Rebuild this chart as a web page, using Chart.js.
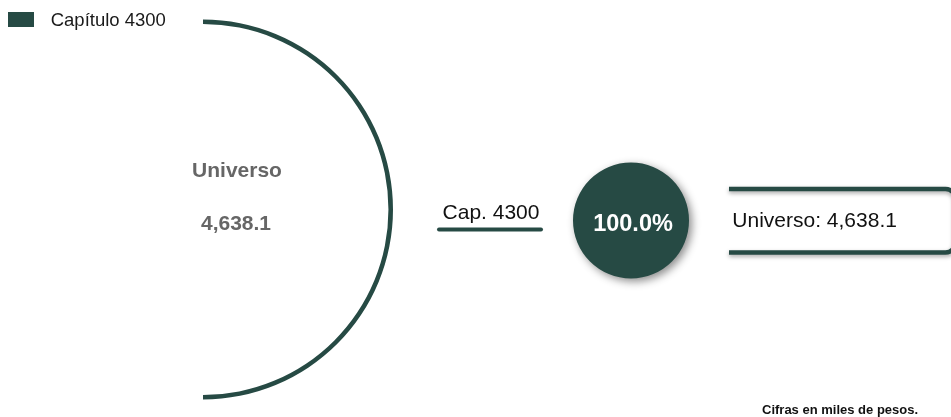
<!DOCTYPE html>
<html>
<head>
<meta charset="utf-8">
<script src="https://cdn.jsdelivr.net/npm/chart.js@4.4.0/dist/chart.umd.min.js"></script>
<style>
  html, body { margin: 0; padding: 0; background: #ffffff; }
  #wrap { position: relative; width: 951px; height: 417px; overflow: hidden;
          font-family: "Liberation Sans", Arial, sans-serif; }
  #arcBox { position: absolute; left: 0; top: 0; width: 596px; height: 417px; }
  #pieBox { position: absolute; left: 0; top: 0; width: 951px; height: 417px; }
  .t { position: absolute; white-space: nowrap; line-height: 1; }
  #legBox { position: absolute; left: 8px; top: 11.5px; width: 26px; height: 15.5px; }
  #legText { left: 50.7px; top: 11px; font-size: 18.5px; color: #1a1a1a; }
  #uniLabel { left: 137px; width: 200px; text-align: center; top: 158.9px; font-size: 21px; font-weight: bold; color: #666666; }
  #uniValue { left: 136px; width: 200px; text-align: center; top: 212.2px; font-size: 21px; font-weight: bold; color: #666666; }
  #capLabel { left: 391px; width: 200px; text-align: center; top: 200.5px; font-size: 21px; color: #111111; }
  #pctLabel { left: 533px; width: 200px; text-align: center; top: 211.6px; font-size: 23.5px; font-weight: bold; color: #ffffff; }
  #boxLabel { left: 732.3px; top: 208.9px; font-size: 21px; color: #111111; }
  #foot { left: 762px; top: 403px; font-size: 13px; font-weight: bold; color: #111111; }
</style>
</head>
<body>
<div id="wrap">
  <div id="arcBox"><canvas id="arcChart"></canvas></div>
  <div id="pieBox"><canvas id="pieChart"></canvas></div>
  <div id="legBox"></div>
  <div class="t" id="legText"></div>
  <div class="t" id="uniLabel"></div>
  <div class="t" id="uniValue"></div>
  <div class="t" id="capLabel"></div>
  <div class="t" id="pctLabel"></div>
  <div class="t" id="boxLabel"></div>
  <div class="t" id="foot"></div>
</div>
<script>
// ---- data ----
const categories = ["Capítulo 4300"];
const shortLabels = ["Cap. 4300"];
const values = [4638.1];
const universeLabel = "Universo";
const footnote = "Cifras en miles de pesos.";
const colors = ["#264a44"];

const total = values.reduce((a, b) => a + b, 0);
const shares = values.map(v => v / total * 100);
const fmt = v => v.toLocaleString("en-US", { minimumFractionDigits: 1, maximumFractionDigits: 1 });

// ---- text ----
document.getElementById("legBox").style.background = colors[0];
document.getElementById("legText").textContent = categories[0];
document.getElementById("uniLabel").textContent = universeLabel;
document.getElementById("uniValue").textContent = fmt(total);
document.getElementById("capLabel").textContent = shortLabels[0];
document.getElementById("pctLabel").textContent = fmt(shares[0]) + "%";
document.getElementById("boxLabel").textContent = universeLabel + ": " + fmt(total);
document.getElementById("foot").textContent = footnote;

// ---- big half-ring: the universe ----
new Chart(document.getElementById("arcChart"), {
  type: "doughnut",
  data: {
    labels: categories,
    datasets: [{
      data: values,
      backgroundColor: colors,
      borderWidth: 0
    }]
  },
  options: {
    responsive: true,
    maintainAspectRatio: false,
    animation: false,
    rotation: 0,
    circumference: 180,
    radius: 190,
    cutout: "97.6%",
    layout: { padding: { top: 2 } },
    plugins: { legend: { display: false }, tooltip: { enabled: false } }
  }
});

// ---- decorations (connector line and label frame) ----
const decoPlugin = {
  id: "deco",
  beforeDatasetsDraw(chart) {
    const ctx = chart.ctx;
    ctx.save();
    ctx.strokeStyle = colors[0];
    // underline under the category label
    ctx.lineWidth = 4;
    ctx.lineCap = "round";
    ctx.beginPath();
    ctx.moveTo(439, 229.5);
    ctx.lineTo(541, 229.5);
    ctx.stroke();
    // open frame around the universe label
    ctx.shadowColor = "rgba(0,0,0,0.35)";
    ctx.shadowBlur = 4;
    ctx.shadowOffsetY = 2;
    ctx.lineWidth = 4.5;
    ctx.lineCap = "butt";
    const x0 = 729, x1 = 955.5, y0 = 189, y1 = 252.5, r = 10;
    ctx.beginPath();
    ctx.moveTo(x0, y0);
    ctx.lineTo(x1 - r, y0);
    ctx.arcTo(x1, y0, x1, y0 + r, r);
    ctx.lineTo(x1, y1 - r);
    ctx.arcTo(x1, y1, x1 - r, y1, r);
    ctx.lineTo(x0, y1);
    ctx.stroke();
    ctx.restore();
  }
};

const shadowPlugin = {
  id: "pieShadow",
  beforeDatasetDraw(chart) {
    const ctx = chart.ctx;
    ctx.save();
    ctx.shadowColor = "rgba(0,0,0,0.45)";
    ctx.shadowBlur = 9;
    ctx.shadowOffsetX = 3;
    ctx.shadowOffsetY = 3;
  },
  afterDatasetDraw(chart) {
    chart.ctx.restore();
  }
};

// ---- share circle: percentage of the universe ----
new Chart(document.getElementById("pieChart"), {
  type: "pie",
  data: {
    labels: categories,
    datasets: [{
      data: shares,
      backgroundColor: colors,
      borderWidth: 0
    }]
  },
  options: {
    responsive: true,
    maintainAspectRatio: false,
    animation: false,
    radius: 58,
    layout: { padding: { left: 311, right: 0, top: 24, bottom: 0 } },
    plugins: { legend: { display: false }, tooltip: { enabled: false } }
  },
  plugins: [decoPlugin, shadowPlugin]
});
</script>
</body>
</html>
